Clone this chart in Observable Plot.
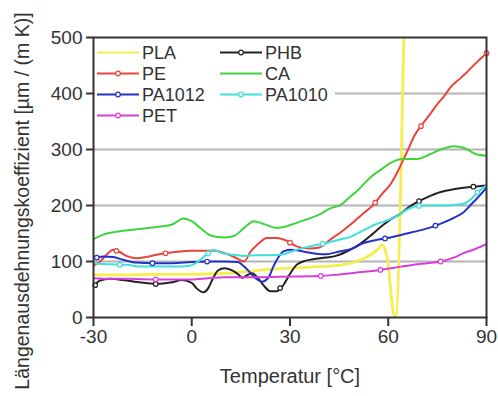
<!DOCTYPE html>
<html><head><meta charset="utf-8">
<script src="https://cdn.jsdelivr.net/npm/d3@7"></script>
<script src="https://cdn.jsdelivr.net/npm/@observablehq/plot@0.6"></script>
<style>
body{margin:0;background:#fff;}
#chart{position:relative;width:498px;height:396px;}
</style>
</head><body><div id="chart"></div>
<script>
// ---- data (temperature °C, coefficient µm/(m K)) ----
const xTicks = [-30, 0, 30, 60, 90];
const yTicks = [0, 100, 200, 300, 400, 500];
const gridTicks = [100, 200, 300, 400];

const PLA = [[-30,76],[-20,76],[-13,77],[-1,77],[11,79],[16,82],[26,87],[36,90],[46,94],[48.5,97],[52,104],[54.6,112],[57,123],[58.2,130],[59.2,118],[59.9,100],[60.7,52],[61.5,10],[62.2,0],[64.8,520]];
const PE = [[-30,92],[-28,100],[-26,112],[-24,121],[-22,117],[-20,110],[-17,106],[-14,108],[-10,113],[-5,117],[0,119],[7,119],[10,115],[13,108],[16,100],[18,118],[20,130],[23,142],[26,142],[29,137],[32,127],[36,123],[39,125],[42,138],[45,150],[48.5,166],[52,184],[55.6,202],[58,220],[60.7,238],[63,262],[64.7,283],[66.3,303],[68,325],[70.4,345],[73,365],[75,381],[77,395],[79,411],[82,427],[84,438],[86,450],[88,461],[90,472]];
const PHB = [[-30,55],[-28,66],[-25,69],[-21,67],[-16,63],[-11,60],[-6,63],[-3,67],[0,62],[1.5,52],[3.6,45],[5,52],[6.5,70],[8,84],[10,88],[12,85],[14,78],[15.5,71],[17,76],[18.5,79],[20,72],[22,57],[24,47],[26,47],[28,58],[30,78],[32,94],[34,100],[37,104],[41,107],[44,110],[47,117],[50,126],[52.5,136],[55,148],[58.6,166],[61,176],[63.7,185],[66,196],[68.8,206],[72,215],[76,224],[80,229],[85,233],[90,236]];
const CA = [[-30,140],[-27,148],[-22,154],[-16,158],[-10,162],[-6,166],[-2.5,177],[0,172],[3,158],[6,146],[10,143],[13,146],[16,160],[19,172],[22,167],[26,160],[29,163],[32,169],[36,177],[39,184],[42,194],[46,203],[48,214],[50.5,226],[54.5,250],[58,265],[61,277],[64.7,283],[68.8,283],[72.9,292],[76,300],[80,306],[83,303],[85,297],[87,291],[90,289]];
const PA1012 = [[-30,106],[-27,109],[-24,108],[-21,103],[-17,98],[-12,97],[-6,97],[0,99],[5,100],[10,100],[14,99],[16,91],[18,79],[19.5,70],[21.5,64],[23.5,72],[25,92],[26.5,108],[28,118],[30,121],[34,118],[38,114],[41,113],[45,118],[48.5,122],[52.5,133],[56,138],[60.7,143],[65,149],[70,156],[73,161],[77,170],[80,178],[83,188],[85,200],[87,212],[90,232]];
const PA1010 = [[-30,97],[-25,95],[-20,94],[-15,91],[-10,91],[-5,91],[-1,92],[2,100],[4,110],[6.5,121],[8,118],[10,114],[13,112],[16,110],[20,111],[24,111],[28,113],[32,121],[36,127],[41,133],[45,139],[48.5,144],[52.5,156],[56,166],[59,172],[62.7,181],[65,190],[68.8,199],[72,200],[76,200],[80,201],[83,203],[85,210],[87.2,223],[90,236]];
const PET = [[-30,70],[-25,69],[-20,69],[-10,68],[0,68],[5,70],[10,72],[20,72],[30,73],[39,74],[45,77],[50,80],[57.6,85],[62,89],[67.8,94],[72,97],[76,100],[80,107],[83,115],[86,121],[90,131]];

// marker temperatures (white circles) per series
const markPE = [-23, -8, 30, 56, 70, 90];
const markPHB = [-29.5, -11, 27, 69.4, 86];
const markPA1012 = [-29, -12, 4.7, 59, 74.4];
const markPA1010 = [-22, 5, 40, 69.4, 87.2];
const markPET = [-11, 39.4, 57.6, 76];

const seriesNames = ["PLA", "PE", "PHB", "CA", "PA1012", "PA1010", "PET"];
const seriesColors = ["#f4ef4c", "#e8453c", "#222222", "#3fd43f", "#2630c8", "#3fe0e0", "#d83fd8"];
const seriesData = [PLA, PE, PHB, CA, PA1012, PA1010, PET];
const seriesMarks = [[], markPE, markPHB, [], markPA1012, markPA1010, markPET];
const seriesWidths = [2.8, 2, 2, 2, 2, 2, 2];

// legend layout: column 1 and column 2
const legendCol1 = ["PLA", "PE", "PA1012", "PET"];
const legendCol2 = ["PHB", "CA", "PA1010"];

// ---- build tables ----
const rows = [];
seriesData.forEach((arr, i) => arr.forEach(([t, v]) => rows.push({name: seriesNames[i], t, v})));
function interp(arr, t) {
  for (let k = 0; k < arr.length - 1; k++) {
    const [t0, v0] = arr[k], [t1, v1] = arr[k + 1];
    if (t >= t0 && t <= t1) return v0 + (v1 - v0) * (t - t0) / (t1 - t0);
  }
  return arr[arr.length - 1][1];
}
const dots = [];
seriesMarks.forEach((ms, i) => ms.forEach(t => dots.push({name: seriesNames[i], t, v: interp(seriesData[i], t)})));
const colorOf = Object.fromEntries(seriesNames.map((n, i) => [n, seriesColors[i]]));

const font = "'Liberation Sans', Arial, sans-serif";
const W = 498, H = 396;
const mL = 93, mR = 12, mT = 37, mB = 79;

const lineMarks = seriesNames.map((n, i) => Plot.line(rows.filter(r => r.name === n), {
  x: "t", y: "v", stroke: seriesColors[i], strokeWidth: seriesWidths[i], curve: "monotone-x", clip: true
}));

const chart = Plot.plot({
  width: W, height: H,
  marginLeft: mL, marginRight: mR, marginTop: mT, marginBottom: mB,
  style: {fontFamily: font, background: "#fff", color: "#333"},
  x: {domain: [-30, 90], label: null},
  y: {domain: [0, 500], label: null},
  marks: [
    Plot.ruleY(gridTicks, {stroke: "#b4b4b4", strokeWidth: 2}),
    ...lineMarks,
    Plot.dot(dots, {x: "t", y: "v", r: 2.3, fill: "#fff", stroke: d => colorOf[d.name], strokeWidth: 1.2}),
    Plot.frame({stroke: "#333", strokeWidth: 2}),
    Plot.axisY({ticks: yTicks, tickFormat: d => String(d), tickSize: 7, tickPadding: 4, fontSize: 19, stroke: "#333", strokeWidth: 2, fill: "#333", label: null}),
    Plot.axisX({ticks: xTicks, tickFormat: d => String(d), tickSize: 9, tickPadding: 3, fontSize: 19, stroke: "#333", strokeWidth: 2, fill: "#333", label: null})
  ]
});
document.getElementById("chart").appendChild(chart);

// ---- axis titles and legend (added to the SVG) ----
const svg = d3.select(chart);
svg.append("text")
  .attr("transform", "translate(22,201) rotate(-90)")
  .attr("text-anchor", "middle").attr("dominant-baseline", "central")
  .style("font-family", font).style("font-size", "19.5px").attr("fill", "#333")
  .text("Längenausdehnungskoeffizient [µm / (m K)]");
svg.append("text")
  .attr("x", 290).attr("y", 376)
  .attr("text-anchor", "middle").attr("dominant-baseline", "central")
  .style("font-family", font).style("font-size", "20px").attr("fill", "#333")
  .text("Temperatur [°C]");

const lg = svg.append("g");
lg.append("rect").attr("x", 95).attr("y", 39).attr("width", 240).attr("height", 88).attr("fill", "#fff");
const rowY = [52.5, 73.5, 94.5, 115.5];
function legendItem(name, x0, y) {
  const i = seriesNames.indexOf(name);
  lg.append("line").attr("x1", x0).attr("x2", x0 + 42).attr("y1", y).attr("y2", y)
    .attr("stroke", seriesColors[i]).attr("stroke-width", 2);
  if (seriesMarks[i].length) lg.append("circle").attr("cx", x0 + 21).attr("cy", y).attr("r", 2.3)
    .attr("fill", "#fff").attr("stroke", seriesColors[i]).attr("stroke-width", 1.2);
  lg.append("text").attr("x", x0 + 45).attr("y", y).attr("dominant-baseline", "central")
    .attr("text-anchor", "start")
    .style("font-family", font).style("font-size", "18px").attr("fill", "#333").text(name);
}
legendCol1.forEach((n, k) => legendItem(n, 97, rowY[k]));
legendCol2.forEach((n, k) => legendItem(n, 220, rowY[k]));
</script>
</body></html>
